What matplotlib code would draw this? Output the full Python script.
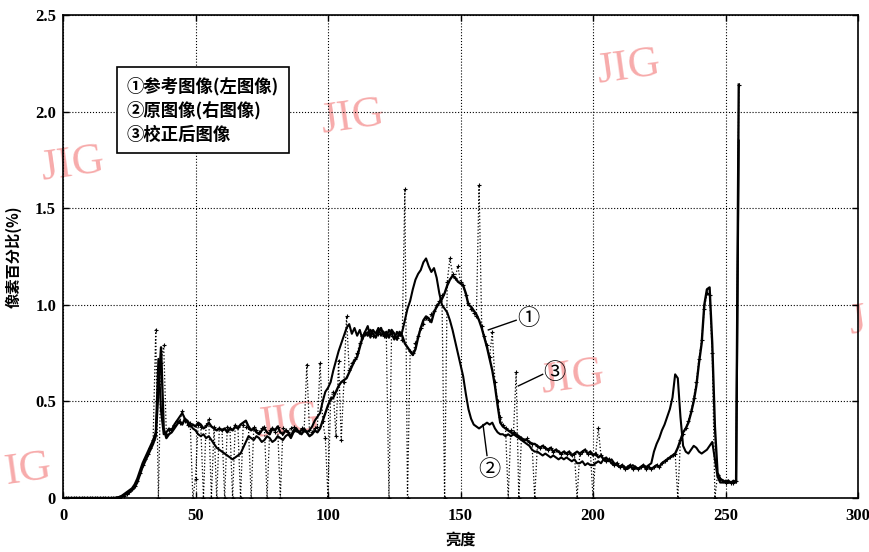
import numpy as np
import matplotlib
matplotlib.use("Agg")
import matplotlib.pyplot as plt

# histogram values (%) for brightness 0..255
ref_hist = [  # (1) reference image (left)
    0, 0, 0, 0, 0, 0, 0, 0, 0, 0,
    0, 0, 0, 0, 0, 0, 0, 0, 0, 0,
    0, 0.003, 0.008, 0.015, 0.02, 0.03, 0.04, 0.055, 0.08, 0.12,
    0.16, 0.19, 0.22, 0.25, 0.28, 0.32, 0.55, 0.78, 0.36, 0.31,
    0.33, 0.34, 0.36, 0.38, 0.40, 0.38, 0.41, 0.39, 0.37, 0.38,
    0.37, 0.39, 0.38, 0.36, 0.37, 0.39, 0.37, 0.36, 0.35, 0.36,
    0.35, 0.36, 0.34, 0.36, 0.35, 0.37, 0.36, 0.38, 0.39, 0.40,
    0.37, 0.35, 0.36, 0.34, 0.33, 0.35, 0.36, 0.34, 0.33, 0.36,
    0.35, 0.37, 0.34, 0.33, 0.35, 0.34, 0.32, 0.35, 0.36, 0.34,
    0.33, 0.35, 0.34, 0.32, 0.33, 0.35, 0.34, 0.36, 0.40, 0.44,
    0.48, 0.51, 0.52, 0.55, 0.58, 0.60, 0.61, 0.62, 0.65, 0.68,
    0.71, 0.73, 0.78, 0.83, 0.86, 0.84, 0.87, 0.85, 0.83, 0.86,
    0.88, 0.84, 0.86, 0.83, 0.87, 0.85, 0.82, 0.86, 0.84, 0.80,
    0.78, 0.76, 0.74, 0.77, 0.83, 0.88, 0.92, 0.94, 0.93, 0.91,
    0.96, 0.99, 1.01, 1.03, 1.06, 1.10, 1.13, 1.15, 1.14, 1.12,
    1.11, 1.10, 1.06, 1.00, 0.99, 0.97, 0.95, 0.92, 0.88, 0.83,
    0.78, 0.72, 0.66, 0.58, 0.48, 0.39, 0.37, 0.36, 0.35, 0.34,
    0.33, 0.33, 0.32, 0.31, 0.30, 0.30, 0.29, 0.28, 0.28, 0.27,
    0.26, 0.27, 0.26, 0.25, 0.26, 0.24, 0.25, 0.24, 0.23, 0.24,
    0.23, 0.24, 0.22, 0.23, 0.24, 0.23, 0.24, 0.25, 0.23, 0.24,
    0.22, 0.23, 0.21, 0.22, 0.20, 0.19, 0.20, 0.18, 0.17, 0.18,
    0.16, 0.17, 0.15, 0.16, 0.17, 0.15, 0.16, 0.15, 0.16, 0.17,
    0.15, 0.16, 0.15, 0.16, 0.17, 0.16, 0.18, 0.19, 0.20, 0.21,
    0.22, 0.23, 0.26, 0.30, 0.34, 0.36, 0.39, 0.44, 0.50, 0.58,
    0.70, 0.80, 1.00, 1.08, 1.09, 0.80, 0.37, 0.13, 0.10, 0.09,
    0.08, 0.09, 0.08, 0.08, 0.09, 2.14,
]

orig_hist = [  # (2) original image (right)
    0, 0, 0, 0, 0, 0, 0, 0, 0, 0,
    0, 0, 0, 0, 0, 0, 0, 0, 0, 0,
    0.002, 0.005, 0.01, 0.02, 0.03, 0.04, 0.05, 0.07, 0.10, 0.14,
    0.18, 0.21, 0.24, 0.27, 0.30, 0.34, 0.72, 0.45, 0.33, 0.34,
    0.36, 0.35, 0.38, 0.40, 0.42, 0.44, 0.41, 0.40, 0.38, 0.36,
    0.35, 0.33, 0.32, 0.33, 0.31, 0.32, 0.30, 0.28, 0.26, 0.25,
    0.24, 0.23, 0.22, 0.21, 0.20, 0.21, 0.22, 0.23, 0.26, 0.29,
    0.32, 0.31, 0.30, 0.32, 0.31, 0.29, 0.30, 0.32, 0.31, 0.29,
    0.30, 0.32, 0.31, 0.30, 0.32, 0.33, 0.31, 0.34, 0.35, 0.34,
    0.35, 0.36, 0.34, 0.35, 0.37, 0.40, 0.42, 0.44, 0.50, 0.55,
    0.57, 0.60, 0.66, 0.71, 0.76, 0.80, 0.84, 0.88, 0.90, 0.85,
    0.88, 0.84, 0.87, 0.82, 0.86, 0.89, 0.83, 0.87, 0.85, 0.88,
    0.84, 0.86, 0.83, 0.87, 0.85, 0.82, 0.86, 0.84, 0.86, 0.92,
    0.98, 1.02, 1.08, 1.13, 1.16, 1.18, 1.22, 1.24, 1.20, 1.17,
    1.19, 1.14, 1.06, 1.00, 0.98, 0.96, 0.92, 0.87, 0.81, 0.75,
    0.69, 0.63, 0.54, 0.46, 0.41, 0.38, 0.37, 0.36, 0.37, 0.38,
    0.39, 0.38, 0.39, 0.36, 0.34, 0.33, 0.33, 0.32, 0.33, 0.32,
    0.33, 0.32, 0.31, 0.30, 0.29, 0.28, 0.27, 0.25, 0.24, 0.24,
    0.23, 0.22, 0.23, 0.22, 0.21, 0.22, 0.21, 0.20, 0.21, 0.20,
    0.21, 0.20, 0.19, 0.20, 0.18, 0.18, 0.19, 0.17, 0.18, 0.17,
    0.17, 0.18, 0.19, 0.18, 0.20, 0.21, 0.19, 0.20, 0.18, 0.17,
    0.16, 0.17, 0.16, 0.15, 0.16, 0.17, 0.16, 0.15, 0.16, 0.17,
    0.16, 0.17, 0.18, 0.24, 0.28, 0.31, 0.35, 0.38, 0.42, 0.46,
    0.52, 0.64, 0.62, 0.42, 0.27, 0.24, 0.23, 0.25, 0.27, 0.26,
    0.24, 0.23, 0.24, 0.25, 0.27, 0.29, 0.20, 0.11, 0.08, 0.08,
    0.09, 0.08, 0.08, 0.09, 0.08, 1.85,
]

corr_hist = [  # (3) corrected image
    0, 0, 0, 0, 0, 0, 0, 0, 0, 0,
    0, 0, 0, 0, 0, 0, 0, 0, 0, 0,
    0, 0, 0.005, 0.01, 0.02, 0.03, 0.045, 0.06, 0.09, 0.13,
    0.17, 0.20, 0.23, 0.26, 0.30, 0.87, 0, 0.70, 0.79, 0.33,
    0.35, 0.36, 0.38, 0.40, 0.39, 0.45, 0.40, 0.38, 0.39, 0,
    0.10, 0.38, 0.37, 0, 0.38, 0.41, 0, 0.37, 0, 0.36,
    0.35, 0, 0.37, 0.36, 0, 0.38, 0.37, 0, 0.38, 0.37,
    0.36, 0, 0.37, 0.35, 0.34, 0.36, 0.37, 0, 0.35, 0.36,
    0.34, 0.37, 0, 0.36, 0.35, 0.34, 0.36, 0.37, 0.35, 0.34,
    0.36, 0.35, 0.69, 0.35, 0.34, 0.36, 0.37, 0.70, 0.40, 0.31,
    0, 0.52, 0.55, 0.32, 0.71, 0.30, 0.60, 0.94, 0.66, 0.70,
    0.72, 0.75, 0.80, 0.84, 0.85, 0.86, 0.85, 0.84, 0.86, 0.85,
    0.87, 0.84, 0.85, 0, 0.86, 0.84, 0.83, 0.85, 0.82, 1.60,
    0, 0.76, 0.75, 0.80, 0.84, 0.88, 0.90, 0.93, 0.92, 0.95,
    0.97, 1.00, 1.02, 1.05, 0, 1.12, 1.24, 1.16, 1.14, 1.20,
    1.12, 1.10, 1.05, 1.01, 0.98, 0.96, 0.94, 1.62, 0.89, 0.84,
    0.79, 0.73, 0.86, 0.60, 0.50, 0.42, 0.38, 0.36, 0, 0.35,
    0.34, 0.65, 0, 0.31, 0.30, 0.31, 0.29, 0.28, 0, 0.27,
    0.26, 0.27, 0.26, 0.25, 0.26, 0.24, 0.25, 0.24, 0.23, 0.24,
    0.23, 0.24, 0.22, 0.23, 0, 0.23, 0.24, 0.25, 0.23, 0.24,
    0, 0.23, 0.36, 0.22, 0.20, 0.19, 0.20, 0.18, 0.17, 0.18,
    0.16, 0.17, 0.15, 0.16, 0.17, 0.15, 0.16, 0.15, 0.16, 0.17,
    0.15, 0.16, 0.15, 0.16, 0.17, 0.16, 0.18, 0.19, 0.20, 0.21,
    0.22, 0.23, 0, 0.30, 0.33, 0.36, 0.40, 0.45, 0.52, 0.60,
    0.72, 0.82, 0.98, 1.06, 1.05, 0.75, 0, 0.12, 0.10, 0.09,
    0.08, 0.09, 0.08, 0.08, 0.09, 2.14,
]

legend_lines = ["①参考图像(左图像)", "②原图像(右图像)", "③校正后图像"]
x_ticks = [0, 50, 100, 150, 200, 250, 300]
y_ticks = [0, 0.5, 1.0, 1.5, 2.0, 2.5]
y_ticklabels = ["0", "0.5", "1.0", "1.5", "2.0", "2.5"]

cjk = ["Noto Sans CJK SC", "DejaVu Sans"]
num_font = "Liberation Serif"

fig = plt.figure(figsize=(8.7, 5.52), dpi=100)
ax = fig.add_axes([63 / 870, 54 / 552, 795 / 870, 483 / 552])
ax.patch.set_alpha(0)

# faint watermarks of the scanned source (pixel positions)
marks = [(72, 165, "JIG", "center"), (352, 118, "JIG", "center"),
         (628, 68, "JIG", "center"), (572, 378, "JIG", "center"),
         (288, 422, "JIG", "center"), (2, 470, "IG", "left"),
         (846, 322, "J", "left")]
for px, py, s, ha in marks:
    fig.text(px / 870, 1 - py / 552, s, ha=ha, va="center", fontsize=32,
             family="Liberation Serif", color="#f7abab", rotation=8,
             zorder=-5)

ax.plot(np.arange(len(corr_hist)), corr_hist, color="black", ls=":",
        lw=0.9, marker="+", ms=3.5, mew=0.8, zorder=2)
ax.plot(np.arange(len(ref_hist)), ref_hist, color="black", lw=1.7, zorder=3)
ax.plot(np.arange(len(orig_hist)), orig_hist, color="black", lw=1.5, zorder=3)

ax.set_xlim(0, 300)
ax.set_ylim(0, 2.5)
ax.set_xticks(x_ticks)
ax.set_xticklabels([str(t) for t in x_ticks], family=num_font,
                   fontsize=12, fontweight="bold")
ax.set_yticks(y_ticks)
ax.set_yticklabels(y_ticklabels, family=num_font, fontsize=12,
                   fontweight="bold")
ax.tick_params(direction="in", length=4, width=1, top=True, right=True,
               pad=5)
ax.tick_params(axis="x", pad=7)
ax.grid(True, ls=":", color="black", lw=0.8)
for sp in ax.spines.values():
    sp.set_linewidth(1.2)

ax.set_xlabel("亮度", family=cjk, fontsize=11, fontweight="bold")
ax.xaxis.set_label_coords(0.5, -0.07)
ax.set_ylabel("像素百分比(%)", family=cjk, fontsize=11, fontweight="bold")
ax.yaxis.set_label_coords(-0.052, 0.5)

ax.text(0.0805, 0.872, "\n".join(legend_lines), transform=ax.transAxes,
        ha="left", va="top", family=cjk, fontsize=12.5, fontweight="bold",
        linespacing=1.42, zorder=5,
        bbox=dict(boxstyle="square,pad=0.55", fc="white", ec="black", lw=1.2))

# circled number callouts
callouts = [("①", (160.5, 0.87), (171.0, 0.92), (175.5, 0.93)),
            ("②", (158.5, 0.38), (160.0, 0.22), (161.0, 0.15)),
            ("③", (171.8, 0.58), (181.0, 0.64), (185.5, 0.65))]
for s, p0, p1, pt in callouts:
    ax.plot([p0[0], p1[0]], [p0[1], p1[1]], color="black", lw=1, zorder=4)
    ax.text(pt[0], pt[1], s, ha="center", va="center", family=cjk,
            fontsize=16, zorder=4)

fig.savefig("out.png", dpi=100)
